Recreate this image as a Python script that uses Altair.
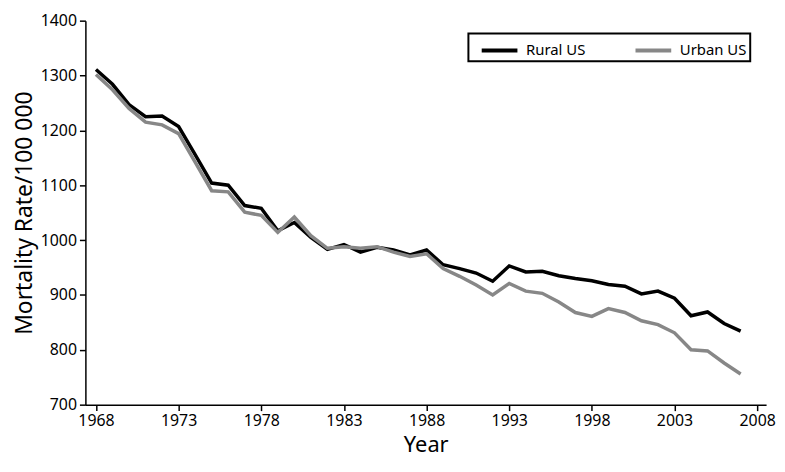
import altair as alt
import pandas as pd

years = list(range(1968, 2008))
rural = [1311, 1284, 1247, 1225, 1226, 1207, 1156, 1104, 1100, 1063,
         1058, 1017, 1032, 1005, 983, 992, 978, 987, 982, 973,
         982, 955, 948, 940, 925, 953, 942, 943, 935, 930,
         926, 919, 916, 902, 907, 894, 862, 869, 848, 834]
urban = [1302, 1274, 1240, 1215, 1210, 1194, 1142, 1090, 1088, 1051,
         1045, 1014, 1042, 1008, 985, 988, 985, 988, 978, 970,
         975, 948, 934, 918, 900, 921, 907, 903, 887, 868,
         861, 875, 868, 853, 846, 831, 800, 798, 776, 756]
series_names = ["Rural US", "Urban US"]
series_colors = ["#000000", "#878787"]
x_ticks = [1968, 1973, 1978, 1983, 1988, 1993, 1998, 2003, 2008]
y_ticks = [700, 800, 900, 1000, 1100, 1200, 1300, 1400]

df = pd.DataFrame({
    "Year": years * 2,
    "Rate": rural + urban,
    "Series": [series_names[0]] * len(years) + [series_names[1]] * len(years),
})

font = "Noto Sans"

chart = alt.Chart(df).mark_line(strokeWidth=3.5, strokeJoin="miter").encode(
    x=alt.X("Year:Q",
            scale=alt.Scale(domain=[1967.36, 2008.54], nice=False, zero=False),
            axis=alt.Axis(values=x_ticks, format="d", title="Year", grid=False,
                          domainColor="black", domainWidth=1.5, tickColor="black",
                          tickWidth=1.5, tickSize=6, labelColor="black",
                          labelFontSize=16, labelFont=font, labelPadding=2,
                          titleFont=font, titleFontSize=22, titleFontWeight="normal",
                          titleColor="black", titlePadding=6, labelFlush=False)),
    y=alt.Y("Rate:Q",
            scale=alt.Scale(domain=[700, 1400], nice=False, zero=False),
            axis=alt.Axis(values=y_ticks, format="d", title="Mortality Rate/100 000",
                          grid=False,
                          domainColor="black", domainWidth=1.5, tickColor="black",
                          tickWidth=1.5, tickSize=6, labelColor="black",
                          labelFontSize=16, labelFont=font, labelPadding=3,
                          titleFont=font, titleFontSize=23, titleFontWeight="normal",
                          titleColor="black", titlePadding=4)),
    color=alt.Color("Series:N",
                    scale=alt.Scale(domain=series_names, range=series_colors),
                    legend=alt.Legend(title=None, orient="none", legendX=386, legendY=13,
                                      direction="horizontal", symbolType="M-0.3,0H2.7",
                                      symbolStrokeWidth=4, symbolSize=576,
                                      labelFont=font, labelFontSize=15, labelColor="black",
                                      labelOffset=27, columnPadding=40,
                                      strokeColor="black", padding=3)),
).properties(
    width=686, height=387,
    autosize=alt.AutoSizeParams(type="none"),
    padding={"left": 78, "top": 11, "right": 11, "bottom": 54}
).configure_view(stroke=None).configure_legend(strokeWidth=2)

chart.save("out.html", embed_options={"renderer": "svg", "actions": False})
